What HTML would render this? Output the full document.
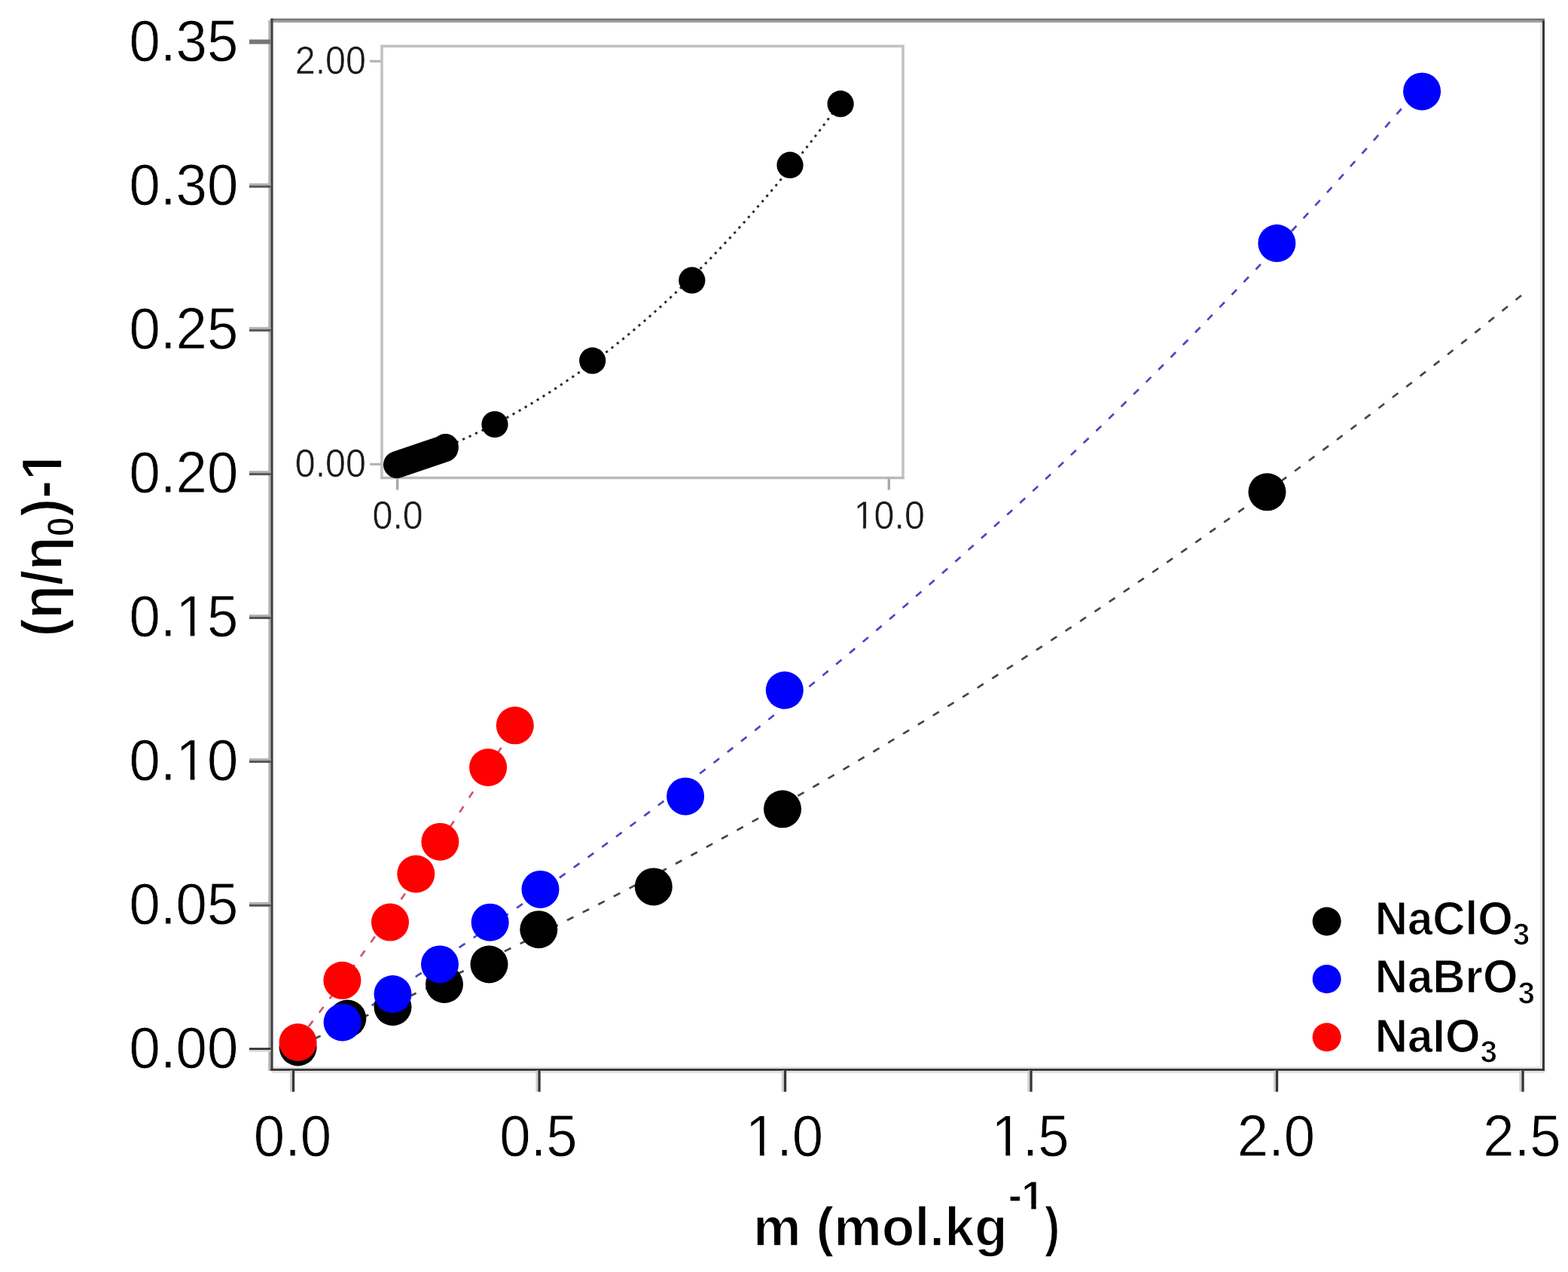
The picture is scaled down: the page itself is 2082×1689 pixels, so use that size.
<!DOCTYPE html>
<html lang="en"><head><meta charset="utf-8"><title>Relative viscosity of NaClO3, NaBrO3 and NaIO3 solutions</title>
<style>html,body{margin:0;padding:0;background:#fff;overflow:hidden;}svg{display:block;}text{font-family:"Liberation Sans",Arial,sans-serif;}</style>
</head><body>
<svg width="2082" height="1689" viewBox="0 0 2082 1689">
<rect width="2082" height="1689" fill="#fff"/>
<rect x="356.3" y="27" width="3.1" height="1395" fill="#b4b4b4"/>
<rect x="361" y="1416.6" width="1687" height="2.2" fill="#dcdcdc"/>
<rect x="361" y="1422.2" width="1690" height="2.8" fill="#e4e4e4"/>
<rect x="2044.6" y="27" width="3.2" height="1392" fill="#e8e8e8"/>
<rect x="359.4" y="24.6" width="1691.6" height="2.8" fill="#737373"/>
<rect x="362.6" y="27.4" width="1685.3" height="2.4" fill="#969696"/>
<rect x="359.4" y="24.6" width="3.2" height="1397.3" fill="#404040"/>
<rect x="2047.9" y="27.2" width="3.1" height="1394.7" fill="#383838"/>
<rect x="359.4" y="1419" width="1691.6" height="2.9" fill="#383838"/>
<rect x="331" y="52.5" width="28.5" height="6" fill="#767676"/>
<g transform="translate(316.30,81.30) scale(0.966,1.0)"><text x="-149.86" y="0" font-size="77" font-weight="normal" fill="#000" stroke="#fff" stroke-width="0.8">0.35</text></g>
<rect x="331" y="243.4" width="28.5" height="2.9" fill="#b0b0b0"/>
<rect x="331" y="246.3" width="28.5" height="3" fill="#555"/>
<g transform="translate(316.30,272.20) scale(0.966,1.0)"><text x="-149.86" y="0" font-size="77" font-weight="normal" fill="#000" stroke="#fff" stroke-width="0.8">0.30</text></g>
<rect x="331" y="434.3" width="28.5" height="2.9" fill="#b0b0b0"/>
<rect x="331" y="437.2" width="28.5" height="3" fill="#555"/>
<g transform="translate(316.30,463.10) scale(0.966,1.0)"><text x="-149.86" y="0" font-size="77" font-weight="normal" fill="#000" stroke="#fff" stroke-width="0.8">0.25</text></g>
<rect x="331" y="625.2" width="28.5" height="2.9" fill="#b0b0b0"/>
<rect x="331" y="628.1" width="28.5" height="3" fill="#555"/>
<g transform="translate(316.30,654.00) scale(0.966,1.0)"><text x="-149.86" y="0" font-size="77" font-weight="normal" fill="#000" stroke="#fff" stroke-width="0.8">0.20</text></g>
<rect x="331" y="816.1" width="28.5" height="2.9" fill="#b0b0b0"/>
<rect x="331" y="819.0" width="28.5" height="3" fill="#555"/>
<g transform="translate(316.30,844.90) scale(0.966,1.0)"><text x="-149.86" y="0" font-size="77" font-weight="normal" fill="#000" stroke="#fff" stroke-width="0.8">0.15</text><rect x="-80.98" y="-6.45" width="15.10" height="7.75" fill="#fff"/><rect x="-59.88" y="-6.45" width="14.50" height="7.75" fill="#fff"/></g>
<rect x="331" y="1007.0" width="28.5" height="2.9" fill="#b0b0b0"/>
<rect x="331" y="1009.9" width="28.5" height="3" fill="#555"/>
<g transform="translate(316.30,1035.80) scale(0.966,1.0)"><text x="-149.86" y="0" font-size="77" font-weight="normal" fill="#000" stroke="#fff" stroke-width="0.8">0.10</text><rect x="-80.98" y="-6.45" width="15.10" height="7.75" fill="#fff"/><rect x="-59.88" y="-6.45" width="14.50" height="7.75" fill="#fff"/></g>
<rect x="331" y="1197.9" width="28.5" height="2.9" fill="#b0b0b0"/>
<rect x="331" y="1200.8" width="28.5" height="3" fill="#555"/>
<g transform="translate(316.30,1226.70) scale(0.966,1.0)"><text x="-149.86" y="0" font-size="77" font-weight="normal" fill="#000" stroke="#fff" stroke-width="0.8">0.05</text></g>
<rect x="331" y="1391.3" width="28.5" height="2.7" fill="#2e2e2e"/>
<rect x="331" y="1394.0" width="28.5" height="2.6" fill="#d4d4d4"/>
<g transform="translate(316.30,1417.60) scale(0.966,1.0)"><text x="-149.86" y="0" font-size="77" font-weight="normal" fill="#000" stroke="#fff" stroke-width="0.8">0.00</text></g>
<rect x="384.9" y="1421.5" width="3" height="28.2" fill="#d0d0d0"/>
<rect x="387.9" y="1421.5" width="3.3" height="28.2" fill="#363636"/>
<g transform="translate(388.50,1534.80) scale(0.966,1.0)"><text x="-53.52" y="0" font-size="77" font-weight="normal" fill="#000" stroke="#fff" stroke-width="0.8">0.0</text></g>
<rect x="711.4" y="1421.5" width="3" height="28.2" fill="#d0d0d0"/>
<rect x="714.4" y="1421.5" width="3.3" height="28.2" fill="#363636"/>
<g transform="translate(715.00,1534.80) scale(0.966,1.0)"><text x="-53.52" y="0" font-size="77" font-weight="normal" fill="#000" stroke="#fff" stroke-width="0.8">0.5</text></g>
<rect x="1037.9" y="1421.5" width="3" height="28.2" fill="#d0d0d0"/>
<rect x="1040.9" y="1421.5" width="3.3" height="28.2" fill="#363636"/>
<g transform="translate(1041.50,1534.80) scale(0.966,1.0)"><text x="-53.52" y="0" font-size="77" font-weight="normal" fill="#000" stroke="#fff" stroke-width="0.8">1.0</text><rect x="-48.86" y="-6.45" width="15.10" height="7.75" fill="#fff"/><rect x="-27.75" y="-6.45" width="14.50" height="7.75" fill="#fff"/></g>
<rect x="1364.4" y="1421.5" width="3" height="28.2" fill="#d0d0d0"/>
<rect x="1367.4" y="1421.5" width="3.3" height="28.2" fill="#363636"/>
<g transform="translate(1368.00,1534.80) scale(0.966,1.0)"><text x="-53.52" y="0" font-size="77" font-weight="normal" fill="#000" stroke="#fff" stroke-width="0.8">1.5</text><rect x="-48.86" y="-6.45" width="15.10" height="7.75" fill="#fff"/><rect x="-27.75" y="-6.45" width="14.50" height="7.75" fill="#fff"/></g>
<rect x="1690.9" y="1421.5" width="3" height="28.2" fill="#d0d0d0"/>
<rect x="1693.9" y="1421.5" width="3.3" height="28.2" fill="#363636"/>
<g transform="translate(1694.50,1534.80) scale(0.966,1.0)"><text x="-53.52" y="0" font-size="77" font-weight="normal" fill="#000" stroke="#fff" stroke-width="0.8">2.0</text></g>
<rect x="2017.4" y="1421.5" width="3" height="28.2" fill="#d0d0d0"/>
<rect x="2020.4" y="1421.5" width="3.3" height="28.2" fill="#363636"/>
<g transform="translate(2021.00,1534.80) scale(0.966,1.0)"><text x="-53.52" y="0" font-size="77" font-weight="normal" fill="#000" stroke="#fff" stroke-width="0.8">2.5</text></g>
<rect x="507" y="61.3" width="692" height="573.2" fill="none" stroke="#c2c2c2" stroke-width="3.6"/>
<rect x="505" y="633.3" width="696" height="2.6" fill="#b8b8b8"/>
<rect x="491" y="79.7" width="15" height="3.2" fill="#b4b4b4"/>
<g transform="translate(486.00,97.90) scale(0.95,1.0)"><text x="-99.26" y="0" font-size="51" font-weight="normal" fill="#1a1a1a" stroke="#fff" stroke-width="0.5">2.00</text></g>
<rect x="491" y="614.8" width="15" height="3.2" fill="#b4b4b4"/>
<g transform="translate(486.00,633.00) scale(0.95,1.0)"><text x="-99.26" y="0" font-size="51" font-weight="normal" fill="#1a1a1a" stroke="#fff" stroke-width="0.5">0.00</text></g>
<rect x="525.9" y="636.0" width="3.4" height="14.5" fill="#a8a8a8"/>
<g transform="translate(528.10,701.60) scale(0.95,1.0)"><text x="-35.45" y="0" font-size="51" font-weight="normal" fill="#1a1a1a" stroke="#fff" stroke-width="0.5">0.0</text></g>
<rect x="1178.6" y="636.0" width="3.4" height="14.5" fill="#a8a8a8"/>
<g transform="translate(1180.80,701.60) scale(0.95,1.0)"><text x="-49.63" y="0" font-size="51" font-weight="normal" fill="#1a1a1a" stroke="#fff" stroke-width="0.5">10.0</text><rect x="-46.95" y="-4.51" width="10.39" height="5.81" fill="#fff"/><rect x="-32.55" y="-4.51" width="9.99" height="5.81" fill="#fff"/></g>
<path d="M527.2,616.5 L530.2,615.6 L533.1,614.6 L536.1,613.7 L539.0,612.7 L542.0,611.8 L545.0,610.8 L547.9,609.8 L550.9,608.8 L553.8,607.7 L556.8,606.7 L559.8,605.6 L562.7,604.6 L565.7,603.5 L568.6,602.4 L571.6,601.3 L574.5,600.1 L577.5,599.0 L580.5,597.8 L583.4,596.7 L586.4,595.5 L589.3,594.3 L592.3,593.1 L595.3,591.9 L598.2,590.6 L601.2,589.4 L604.1,588.1 L607.1,586.8 L610.1,585.5 L613.0,584.2 L616.0,582.9 L618.9,581.5 L621.9,580.2 L624.9,578.8 L627.8,577.4 L630.8,576.0 L633.7,574.6 L636.7,573.2 L639.7,571.8 L642.6,570.3 L645.6,568.8 L648.5,567.4 L651.5,565.9 L654.4,564.3 L657.4,562.8 L660.4,561.3 L663.3,559.7 L666.3,558.2 L669.2,556.6 L672.2,555.0 L675.2,553.4 L678.1,551.7 L681.1,550.1 L684.0,548.4 L687.0,546.7 L690.0,545.1 L692.9,543.4 L695.9,541.6 L698.8,539.9 L701.8,538.2 L704.8,536.4 L707.7,534.6 L710.7,532.8 L713.6,531.0 L716.6,529.2 L719.6,527.3 L722.5,525.5 L725.5,523.6 L728.4,521.7 L731.4,519.8 L734.4,517.9 L737.3,516.0 L740.3,514.1 L743.2,512.1 L746.2,510.1 L749.1,508.1 L752.1,506.1 L755.1,504.1 L758.0,502.1 L761.0,500.0 L763.9,498.0 L766.9,495.9 L769.9,493.8 L772.8,491.7 L775.8,489.5 L778.7,487.4 L781.7,485.2 L784.7,483.1 L787.6,480.9 L790.6,478.7 L793.5,476.4 L796.5,474.2 L799.5,471.9 L802.4,469.7 L805.4,467.4 L808.3,465.1 L811.3,462.8 L814.3,460.4 L817.2,458.1 L820.2,455.7 L823.1,453.4 L826.1,451.0 L829.0,448.6 L832.0,446.1 L835.0,443.7 L837.9,441.2 L840.9,438.8 L843.8,436.3 L846.8,433.8 L849.8,431.2 L852.7,428.7 L855.7,426.1 L858.6,423.6 L861.6,421.0 L864.6,418.4 L867.5,415.8 L870.5,413.1 L873.4,410.5 L876.4,407.8 L879.4,405.1 L882.3,402.4 L885.3,399.7 L888.2,397.0 L891.2,394.2 L894.2,391.5 L897.1,388.7 L900.1,385.9 L903.0,383.1 L906.0,380.3 L908.9,377.4 L911.9,374.5 L914.9,371.7 L917.8,368.8 L920.8,365.9 L923.7,362.9 L926.7,360.0 L929.7,357.0 L932.6,354.0 L935.6,351.0 L938.5,348.0 L941.5,345.0 L944.5,342.0 L947.4,338.9 L950.4,335.8 L953.3,332.7 L956.3,329.6 L959.3,326.5 L962.2,323.3 L965.2,320.2 L968.1,317.0 L971.1,313.8 L974.1,310.6 L977.0,307.4 L980.0,304.1 L982.9,300.8 L985.9,297.6 L988.9,294.3 L991.8,290.9 L994.8,287.6 L997.7,284.3 L1000.7,280.9 L1003.6,277.5 L1006.6,274.1 L1009.6,270.7 L1012.5,267.3 L1015.5,263.8 L1018.4,260.3 L1021.4,256.8 L1024.4,253.3 L1027.3,249.8 L1030.3,246.3 L1033.2,242.7 L1036.2,239.1 L1039.2,235.6 L1042.1,231.9 L1045.1,228.3 L1048.0,224.7 L1051.0,221.0 L1054.0,217.3 L1056.9,213.6 L1059.9,209.9 L1062.8,206.2 L1065.8,202.4 L1068.8,198.7 L1071.7,194.9 L1074.7,191.1 L1077.6,187.3 L1080.6,183.4 L1083.5,179.6 L1086.5,175.7 L1089.5,171.8 L1092.4,167.9 L1095.4,164.0 L1098.3,160.0 L1101.3,156.1 L1104.3,152.1 L1107.2,148.1 L1110.2,144.1 L1113.1,140.0 L1116.1,136.0" fill="none" stroke="#2a2a2a" stroke-width="3" stroke-dasharray="3.2 6.1"/>
<path d="M527,617 L590.5,595.5" stroke="#000" stroke-width="36" stroke-linecap="round" fill="none"/>
<circle cx="591.5" cy="593.2" r="17.3" fill="#000"/>
<circle cx="657.0" cy="563.5" r="17.6" fill="#000"/>
<circle cx="786.7" cy="478.9" r="17.6" fill="#000"/>
<circle cx="918.8" cy="372.2" r="17.6" fill="#000"/>
<circle cx="1049.0" cy="219.2" r="17.6" fill="#000"/>
<circle cx="1116.1" cy="137.9" r="17.6" fill="#000"/>
<path d="M395.6,1388.6 L405.8,1384.2 L416.0,1379.8 L426.3,1375.3 L436.5,1370.9 L446.7,1366.4 L456.9,1361.9 L467.2,1357.4 L477.4,1352.9 L487.6,1348.3 L497.8,1343.7 L508.0,1339.1 L518.3,1334.5 L528.5,1329.8 L538.7,1325.1 L548.9,1320.4 L559.2,1315.7 L569.4,1311.0 L579.6,1306.2 L589.8,1301.4 L600.1,1296.6 L610.3,1291.8 L620.5,1287.0 L630.7,1282.1 L640.9,1277.2 L651.2,1272.3 L661.4,1267.3 L671.6,1262.4 L681.8,1257.4 L692.1,1252.4 L702.3,1247.3 L712.5,1242.3 L722.7,1237.2 L732.9,1232.1 L743.2,1227.0 L753.4,1221.8 L763.6,1216.6 L773.8,1211.4 L784.1,1206.2 L794.3,1201.0 L804.5,1195.7 L814.7,1190.4 L825.0,1185.1 L835.2,1179.8 L845.4,1174.4 L855.6,1169.0 L865.8,1163.6 L876.1,1158.2 L886.3,1152.8 L896.5,1147.3 L906.7,1141.8 L917.0,1136.3 L927.2,1130.7 L937.4,1125.1 L947.6,1119.6 L957.8,1113.9 L968.1,1108.3 L978.3,1102.6 L988.5,1096.9 L998.7,1091.2 L1009.0,1085.5 L1019.2,1079.7 L1029.4,1073.9 L1039.6,1068.1 L1049.8,1062.3 L1060.1,1056.4 L1070.3,1050.5 L1080.5,1044.6 L1090.7,1038.7 L1101.0,1032.8 L1111.2,1026.8 L1121.4,1020.8 L1131.6,1014.7 L1141.9,1008.7 L1152.1,1002.6 L1162.3,996.5 L1172.5,990.4 L1182.7,984.2 L1193.0,978.0 L1203.2,971.8 L1213.4,965.6 L1223.6,959.4 L1233.9,953.1 L1244.1,946.8 L1254.3,940.4 L1264.5,934.1 L1274.7,927.7 L1285.0,921.3 L1295.2,914.9 L1305.4,908.4 L1315.6,901.9 L1325.9,895.4 L1336.1,888.9 L1346.3,882.4 L1356.5,875.8 L1366.8,869.2 L1377.0,862.5 L1387.2,855.9 L1397.4,849.2 L1407.6,842.5 L1417.9,835.7 L1428.1,829.0 L1438.3,822.2 L1448.5,815.4 L1458.8,808.6 L1469.0,801.7 L1479.2,794.8 L1489.4,787.9 L1499.6,780.9 L1509.9,774.0 L1520.1,767.0 L1530.3,760.0 L1540.5,752.9 L1550.8,745.8 L1561.0,738.7 L1571.2,731.6 L1581.4,724.5 L1591.6,717.3 L1601.9,710.1 L1612.1,702.8 L1622.3,695.6 L1632.5,688.3 L1642.8,681.0 L1653.0,673.7 L1663.2,666.3 L1673.4,658.9 L1683.7,651.5 L1693.9,644.0 L1704.1,636.6 L1714.3,629.1 L1724.5,621.5 L1734.8,614.0 L1745.0,606.4 L1755.2,598.8 L1765.4,591.2 L1775.7,583.5 L1785.9,575.8 L1796.1,568.1 L1806.3,560.4 L1816.5,552.6 L1826.8,544.8 L1837.0,537.0 L1847.2,529.1 L1857.4,521.2 L1867.7,513.3 L1877.9,505.4 L1888.1,497.4 L1898.3,489.4 L1908.6,481.4 L1918.8,473.4 L1929.0,465.3 L1939.2,457.2 L1949.4,449.1 L1959.7,440.9 L1969.9,432.7 L1980.1,424.5 L1990.3,416.3 L2000.6,408.0 L2010.8,399.7 L2021.0,391.4" fill="none" stroke="#454545" stroke-width="2.7" stroke-dasharray="9.5 13.7"/>
<path d="M454.6,1360.3 L463.6,1354.5 L472.6,1348.7 L481.6,1342.9 L490.7,1337.1 L499.7,1331.2 L508.7,1325.3 L517.7,1319.5 L526.7,1313.5 L535.7,1307.6 L544.8,1301.7 L553.8,1295.7 L562.8,1289.7 L571.8,1283.7 L580.8,1277.7 L589.8,1271.6 L598.9,1265.5 L607.9,1259.4 L616.9,1253.3 L625.9,1247.2 L634.9,1241.0 L643.9,1234.8 L652.9,1228.6 L662.0,1222.4 L671.0,1216.2 L680.0,1209.9 L689.0,1203.6 L698.0,1197.3 L707.0,1190.9 L716.1,1184.6 L725.1,1178.2 L734.1,1171.8 L743.1,1165.4 L752.1,1158.9 L761.1,1152.4 L770.2,1145.9 L779.2,1139.4 L788.2,1132.9 L797.2,1126.3 L806.2,1119.7 L815.2,1113.1 L824.2,1106.4 L833.3,1099.7 L842.3,1093.0 L851.3,1086.3 L860.3,1079.6 L869.3,1072.8 L878.3,1066.0 L887.4,1059.2 L896.4,1052.3 L905.4,1045.5 L914.4,1038.6 L923.4,1031.6 L932.4,1024.7 L941.4,1017.7 L950.5,1010.7 L959.5,1003.7 L968.5,996.6 L977.5,989.5 L986.5,982.4 L995.5,975.3 L1004.6,968.1 L1013.6,960.9 L1022.6,953.7 L1031.6,946.5 L1040.6,939.2 L1049.6,931.9 L1058.7,924.6 L1067.7,917.2 L1076.7,909.8 L1085.7,902.4 L1094.7,895.0 L1103.7,887.5 L1112.7,880.0 L1121.8,872.5 L1130.8,864.9 L1139.8,857.3 L1148.8,849.7 L1157.8,842.1 L1166.8,834.4 L1175.9,826.7 L1184.9,818.9 L1193.9,811.2 L1202.9,803.4 L1211.9,795.6 L1220.9,787.7 L1230.0,779.8 L1239.0,771.9 L1248.0,763.9 L1257.0,756.0 L1266.0,748.0 L1275.0,739.9 L1284.0,731.8 L1293.1,723.7 L1302.1,715.6 L1311.1,707.4 L1320.1,699.2 L1329.1,691.0 L1338.1,682.8 L1347.2,674.5 L1356.2,666.1 L1365.2,657.8 L1374.2,649.4 L1383.2,641.0 L1392.2,632.5 L1401.3,624.0 L1410.3,615.5 L1419.3,606.9 L1428.3,598.3 L1437.3,589.7 L1446.3,581.1 L1455.3,572.4 L1464.4,563.6 L1473.4,554.9 L1482.4,546.1 L1491.4,537.3 L1500.4,528.4 L1509.4,519.5 L1518.5,510.6 L1527.5,501.6 L1536.5,492.6 L1545.5,483.6 L1554.5,474.5 L1563.5,465.4 L1572.5,456.2 L1581.6,447.1 L1590.6,437.8 L1599.6,428.6 L1608.6,419.3 L1617.6,410.0 L1626.6,400.6 L1635.7,391.2 L1644.7,381.8 L1653.7,372.3 L1662.7,362.8 L1671.7,353.3 L1680.7,343.7 L1689.8,334.1 L1698.8,324.4 L1707.8,314.7 L1716.8,305.0 L1725.8,295.2 L1734.8,285.4 L1743.8,275.6 L1752.9,265.7 L1761.9,255.8 L1770.9,245.8 L1779.9,235.8 L1788.9,225.8 L1797.9,215.7 L1807.0,205.6 L1816.0,195.5 L1825.0,185.3 L1834.0,175.0 L1843.0,164.8 L1852.0,154.5 L1861.1,144.1 L1870.1,133.7 L1879.1,123.3 L1888.1,112.8" fill="none" stroke="#4c46c4" stroke-width="2.7" stroke-dasharray="9.5 13.7"/>
<path d="M395.6,1381.5 L397.4,1379.2 L399.2,1376.8 L401.0,1374.5 L402.9,1372.1 L404.7,1369.7 L406.5,1367.4 L408.3,1365.0 L410.1,1362.6 L411.9,1360.3 L413.7,1357.9 L415.5,1355.5 L417.4,1353.1 L419.2,1350.7 L421.0,1348.4 L422.8,1346.0 L424.6,1343.6 L426.4,1341.2 L428.2,1338.8 L430.0,1336.3 L431.9,1333.9 L433.7,1331.5 L435.5,1329.1 L437.3,1326.7 L439.1,1324.2 L440.9,1321.8 L442.7,1319.4 L444.5,1316.9 L446.4,1314.5 L448.2,1312.1 L450.0,1309.6 L451.8,1307.1 L453.6,1304.7 L455.4,1302.2 L457.2,1299.8 L459.0,1297.3 L460.9,1294.8 L462.7,1292.4 L464.5,1289.9 L466.3,1287.4 L468.1,1284.9 L469.9,1282.4 L471.7,1279.9 L473.5,1277.4 L475.4,1274.9 L477.2,1272.4 L479.0,1269.9 L480.8,1267.4 L482.6,1264.9 L484.4,1262.4 L486.2,1259.9 L488.0,1257.3 L489.9,1254.8 L491.7,1252.3 L493.5,1249.7 L495.3,1247.2 L497.1,1244.7 L498.9,1242.1 L500.7,1239.6 L502.5,1237.0 L504.4,1234.4 L506.2,1231.9 L508.0,1229.3 L509.8,1226.7 L511.6,1224.2 L513.4,1221.6 L515.2,1219.0 L517.0,1216.4 L518.9,1213.9 L520.7,1211.3 L522.5,1208.7 L524.3,1206.1 L526.1,1203.5 L527.9,1200.9 L529.7,1198.3 L531.5,1195.6 L533.4,1193.0 L535.2,1190.4 L537.0,1187.8 L538.8,1185.2 L540.6,1182.5 L542.4,1179.9 L544.2,1177.3 L546.0,1174.6 L547.9,1172.0 L549.7,1169.3 L551.5,1166.7 L553.3,1164.0 L555.1,1161.4 L556.9,1158.7 L558.7,1156.0 L560.5,1153.4 L562.4,1150.7 L564.2,1148.0 L566.0,1145.3 L567.8,1142.6 L569.6,1140.0 L571.4,1137.3 L573.2,1134.6 L575.0,1131.9 L576.9,1129.2 L578.7,1126.5 L580.5,1123.8 L582.3,1121.0 L584.1,1118.3 L585.9,1115.6 L587.7,1112.9 L589.5,1110.2 L591.4,1107.4 L593.2,1104.7 L595.0,1102.0 L596.8,1099.2 L598.6,1096.5 L600.4,1093.7 L602.2,1091.0 L604.0,1088.2 L605.9,1085.4 L607.7,1082.7 L609.5,1079.9 L611.3,1077.1 L613.1,1074.4 L614.9,1071.6 L616.7,1068.8 L618.5,1066.0 L620.4,1063.2 L622.2,1060.4 L624.0,1057.6 L625.8,1054.8 L627.6,1052.0 L629.4,1049.2 L631.2,1046.4 L633.0,1043.6 L634.9,1040.8 L636.7,1038.0 L638.5,1035.2 L640.3,1032.3 L642.1,1029.5 L643.9,1026.7 L645.7,1023.8 L647.5,1021.0 L649.4,1018.1 L651.2,1015.3 L653.0,1012.4 L654.8,1009.6 L656.6,1006.7 L658.4,1003.8 L660.2,1001.0 L662.0,998.1 L663.9,995.2 L665.7,992.3 L667.5,989.5 L669.3,986.6 L671.1,983.7 L672.9,980.8 L674.7,977.9 L676.5,975.0 L678.4,972.1 L680.2,969.2 L682.0,966.3 L683.8,963.3" fill="none" stroke="#d05868" stroke-width="2.7" stroke-dasharray="9.5 13.7"/>
<circle cx="395.6" cy="1390.5" r="25" fill="#000"/>
<circle cx="461.3" cy="1352.5" r="25" fill="#000"/>
<circle cx="521.5" cy="1337.0" r="25" fill="#000"/>
<circle cx="590.0" cy="1307.0" r="25" fill="#000"/>
<circle cx="649.5" cy="1280.5" r="25" fill="#000"/>
<circle cx="715.3" cy="1234.2" r="25" fill="#000"/>
<circle cx="867.8" cy="1177.4" r="25" fill="#000"/>
<circle cx="1039.0" cy="1074.3" r="25" fill="#000"/>
<circle cx="1682.5" cy="653.3" r="25" fill="#000"/>
<circle cx="454.6" cy="1357.5" r="25" fill="#0000ff"/>
<circle cx="521.5" cy="1320.0" r="25" fill="#0000ff"/>
<circle cx="584.0" cy="1280.4" r="25" fill="#0000ff"/>
<circle cx="650.7" cy="1224.7" r="25" fill="#0000ff"/>
<circle cx="717.5" cy="1180.9" r="25" fill="#0000ff"/>
<circle cx="910.1" cy="1057.4" r="25" fill="#0000ff"/>
<circle cx="1041.8" cy="916.5" r="25" fill="#0000ff"/>
<circle cx="1695.4" cy="323.0" r="25" fill="#0000ff"/>
<circle cx="1888.1" cy="121.4" r="25" fill="#0000ff"/>
<circle cx="395.6" cy="1384.0" r="25" fill="#ff0000"/>
<circle cx="454.4" cy="1301.8" r="25" fill="#ff0000"/>
<circle cx="518.0" cy="1224.6" r="25" fill="#ff0000"/>
<circle cx="552.3" cy="1160.5" r="25" fill="#ff0000"/>
<circle cx="584.4" cy="1117.7" r="25" fill="#ff0000"/>
<circle cx="648.1" cy="1019.0" r="25" fill="#ff0000"/>
<circle cx="683.8" cy="963.3" r="25" fill="#ff0000"/>
<circle cx="1761.7" cy="1223.5" r="19" fill="#000"/>
<circle cx="1761.7" cy="1300" r="19" fill="#0000ff"/>
<circle cx="1761.7" cy="1377.3" r="19" fill="#ff0000"/>
<g transform="translate(1825.80,1240.90) scale(0.966,1.0)"><text x="0.00" y="0" font-size="62" font-weight="bold" fill="#000" stroke="#fff" stroke-width="1.2">NaClO<tspan font-size="42" font-weight="bold" dy="14.5">3</tspan></text></g>
<g transform="translate(1825.80,1318.20) scale(0.966,1.0)"><text x="0.00" y="0" font-size="62" font-weight="bold" fill="#000" stroke="#fff" stroke-width="1.2">NaBrO<tspan font-size="42" font-weight="bold" dy="14.5">3</tspan></text></g>
<g transform="translate(1825.80,1396.50) scale(0.966,1.0)"><text x="0.00" y="0" font-size="62" font-weight="bold" fill="#000" stroke="#fff" stroke-width="1.2">NaIO<tspan font-size="42" font-weight="bold" dy="14.5">3</tspan></text></g>
<g transform="translate(1000.00,1653.80)"><text x="0.00" y="0" font-size="71.5" font-weight="bold" fill="#000" stroke="#fff" stroke-width="1.6">m (mol.kg</text></g>
<g transform="translate(1338.90,1605.80)"><text x="0.00" y="0" font-size="53" font-weight="bold" fill="#000" stroke="#fff" stroke-width="0.9">-1</text><rect x="19.79" y="-6.11" width="10.68" height="7.41" fill="#fff"/><rect x="36.84" y="-6.11" width="10.01" height="7.41" fill="#fff"/></g>
<g transform="translate(1387.10,1653.70) scale(0.85,1.0)"><text x="0.00" y="0" font-size="71.5" font-weight="bold" fill="#000" stroke="#fff" stroke-width="1.4">)</text></g>
<g transform="translate(81.50,845.60) rotate(-90) scale(1.0,1.04)"><text x="0.00" y="0" font-size="72.5" font-weight="bold" fill="#000" stroke="#fff" stroke-width="1.6">(η/η<tspan font-size="47.9" font-weight="bold" dy="15.5">0</tspan><tspan font-size="72.5" font-weight="bold" dy="-15.5">)-1</tspan></text><rect x="211.15" y="-8.10" width="14.35" height="9.40" fill="#fff"/><rect x="233.85" y="-8.10" width="13.43" height="9.40" fill="#fff"/></g>
</svg>
</body></html>
